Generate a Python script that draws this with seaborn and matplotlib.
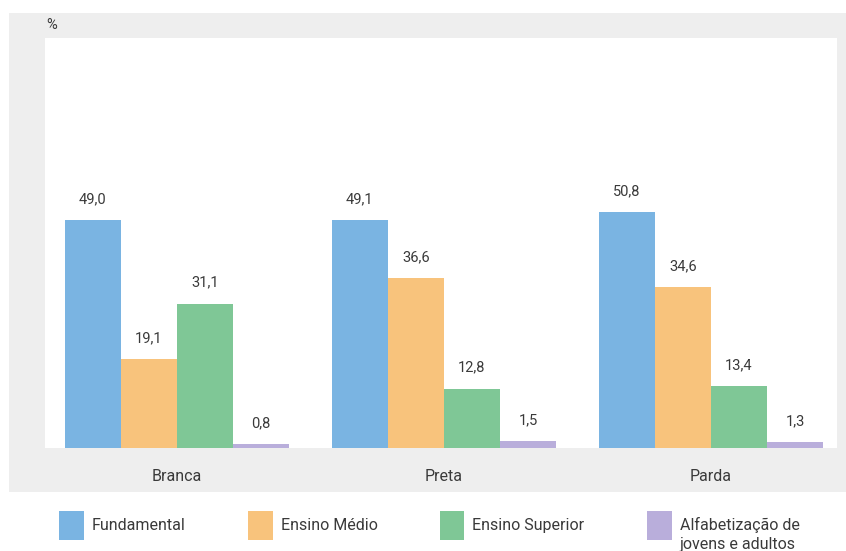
import numpy as np
import pandas as pd
import seaborn as sns
import matplotlib.pyplot as plt
from matplotlib.patches import Rectangle

# data
groups = ['Branca', 'Preta', 'Parda']
levels = ['Fundamental', 'Ensino Médio', 'Ensino Superior', 'Alfabetização de jovens e adultos']
legend_labels = ['Fundamental', 'Ensino Médio', 'Ensino Superior', 'Alfabetização de']
fundamental = [49.0, 49.1, 50.8]
medio = [19.1, 36.6, 34.6]
superior = [31.1, 12.8, 13.4]
alfabetizacao = [0.8, 1.5, 1.3]
colors = ['#7ab4e2', '#f8c37c', '#7fc796', '#b9aedb']

sns.set_theme(style='white')
plt.rcParams['font.family'] = ['Roboto', 'DejaVu Sans']
txt = '#3a3a3a'

rows = []
for lvl, vals in zip(levels, [fundamental, medio, superior, alfabetizacao]):
    for g, v in zip(groups, vals):
        rows.append({'grupo': g, 'nivel': lvl, 'valor': v})
df = pd.DataFrame(rows)

W, H = 846, 551
fig = plt.figure(figsize=(W / 100, H / 100), dpi=100)
fig.patch.set_facecolor('white')
# gray panel behind the plot
fig.patches.append(Rectangle((9 / W, 1 - 492 / H), 1 - 9 / W, (492 - 13) / H,
                             transform=fig.transFigure, facecolor='#eeeeee',
                             edgecolor='none', zorder=-10))

ax = fig.add_axes([45 / W, 1 - 448 / H, (837 - 45) / W, (448 - 38) / H])
ax.set_facecolor('white')
sns.barplot(data=df, x='grupo', y='valor', hue='nivel', hue_order=levels,
            palette=colors, width=0.84, gap=0, saturation=1, ax=ax, legend=True,
            linewidth=0, edgecolor='none')

for cont in ax.containers:
    ax.bar_label(cont, labels=[f'{v:.1f}'.replace('.', ',') for v in cont.datavalues],
                 padding=10, fontsize=10.5, color=txt)

ax.set_xlim(-0.494, 2.472)
ax.set_ylim(0, 88.3)
ax.set_xlabel('')
ax.set_ylabel('')
ax.set_yticks([])
ax.tick_params(axis='x', length=0, pad=15, labelsize=11.5, labelcolor=txt)
for s in ax.spines.values():
    s.set_visible(False)

fig.text(46 / W, 1 - 25 / H, '%', fontsize=10.5, color=txt, va='center', ha='left')

handles, _ = ax.get_legend_handles_labels()
ax.get_legend().remove()
leg = fig.legend(handles, legend_labels, loc='upper left', bbox_to_anchor=(59 / W, 1 - 511 / H),
                 ncol=4, frameon=False, handlelength=1.55, handleheight=2.4,
                 handletextpad=0.5, columnspacing=3.9, borderaxespad=0, borderpad=0,
                 prop={'size': 11.5})
for t in leg.get_texts():
    t.set_color(txt)

# second line of the last legend label
fig.canvas.draw()
bb = leg.get_texts()[-1].get_window_extent().transformed(fig.transFigure.inverted())
fig.text(bb.x0, bb.y0 - 4 / H, 'jovens e adultos', fontsize=11.5, color=txt,
         ha='left', va='top')

fig.savefig('out.png', dpi=100)
